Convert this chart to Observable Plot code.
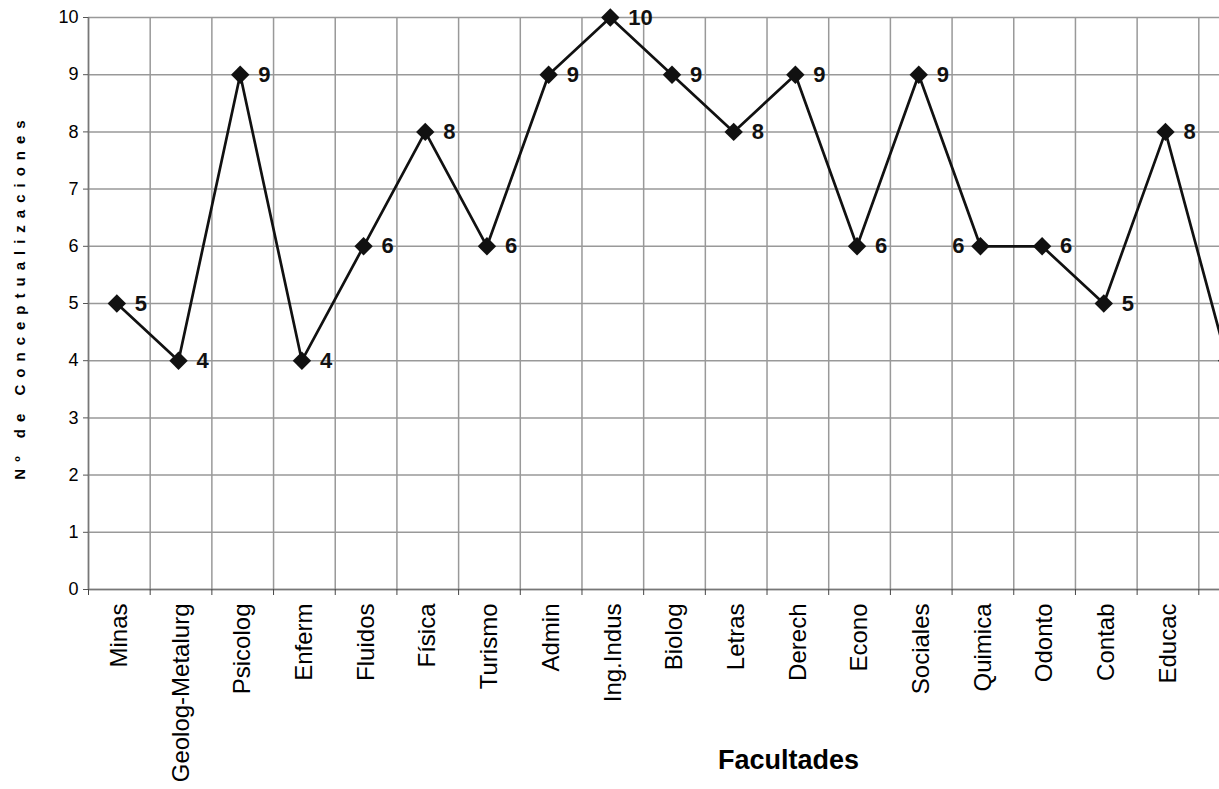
<!DOCTYPE html>
<html>
<head>
<meta charset="utf-8">
<script src="https://cdn.jsdelivr.net/npm/d3@7"></script>
<script src="https://cdn.jsdelivr.net/npm/@observablehq/plot@0.6"></script>
<style>
  html, body { margin: 0; padding: 0; background: white; overflow: hidden; }
  #chart { width: 1219px; height: 789px; overflow: hidden; }
</style>
</head>
<body>
<div id="chart"></div>
<script>
const categories = ["Minas","Geolog-Metalurg","Psicolog","Enferm","Fluidos","Física","Turismo","Admin","Ing.Indus","Biolog","Letras","Derech","Econo","Sociales","Quimica","Odonto","Contab","Educac",""];
const values = [5,4,9,4,6,8,6,9,10,9,8,9,6,9,6,6,5,8,4];
const yTicks = [0,1,2,3,4,5,6,7,8,9,10];
const leftLabelled = ["Quimica"];
const xTitle = "Facultades";
const yTitle = "Nº de Conceptualizaciones";

const data = categories.map((c, i) => ({cat: c, pos: i + 0.5, value: values[i]}));
const labelled = data.filter(d => d.cat !== "");
const boundaries = d3.range(categories.length + 1);
const shift = -2.5;

const chart = Plot.plot({
  width: 1260,
  height: 789,
  marginLeft: 88,
  marginRight: 0,
  marginTop: 17,
  marginBottom: 200,
  style: {fontFamily: "'Liberation Sans', Arial, sans-serif", background: "white", maxWidth: "none", color: "black"},
  x: {domain: [0, categories.length], axis: null},
  y: {domain: [0, 10], axis: null},
  marks: [
    Plot.gridY(yTicks, {stroke: "#999", strokeOpacity: 1, strokeWidth: 1.5}),
    Plot.gridX(boundaries, {stroke: "#999", strokeOpacity: 1, strokeWidth: 1.5}),
    Plot.ruleX([0], {stroke: "#777", strokeWidth: 1.5}),
    Plot.ruleY([0], {stroke: "#777", strokeWidth: 1.5}),
    Plot.axisY(yTicks, {tickSize: 5, tickPadding: 5, fontSize: 18, stroke: "#555", fill: "black", label: null, tickFormat: d => String(d)}),
    Plot.axisX(boundaries, {tickSize: 6, stroke: "#444", tickFormat: () => "", label: null}),
    Plot.axisX(data.map(d => d.pos), {
      tickSize: 0, tickPadding: 14, tickRotate: -90, fontSize: 24, fill: "black", label: null,
      tickFormat: p => categories[Math.round(p - 0.5)]
    }),
    Plot.line(data, {x: "pos", y: "value", dx: shift, stroke: "#111", strokeWidth: 2.7}),
    Plot.dot(data, {x: "pos", y: "value", dx: shift, symbol: "diamond2", r: 8.3, fill: "#111", stroke: "none"}),
    Plot.text(labelled.filter(d => !leftLabelled.includes(d.cat)), {
      x: "pos", y: "value", text: "value", dx: shift + 18, textAnchor: "start",
      fontSize: 22, fontWeight: "bold", fill: "#111"
    }),
    Plot.text(labelled.filter(d => leftLabelled.includes(d.cat)), {
      x: "pos", y: "value", text: "value", dx: shift - 16, textAnchor: "end",
      fontSize: 22, fontWeight: "bold", fill: "#111"
    }),
    Plot.text([xTitle], {frameAnchor: "bottom", dx: 114, dy: 179, fontSize: 27, fontWeight: "bold", fill: "black", textAnchor: "middle"}),
    Plot.text([yTitle], {frameAnchor: "left", rotate: -90, dx: -68, dy: -7, fontSize: 15, fontWeight: "bold", fill: "black", textAnchor: "middle"})
  ]
});

d3.select(chart).selectAll("text").filter(function() { return this.textContent === yTitle; })
  .style("letter-spacing", "7px");

document.getElementById("chart").appendChild(chart);
</script>
</body>
</html>
